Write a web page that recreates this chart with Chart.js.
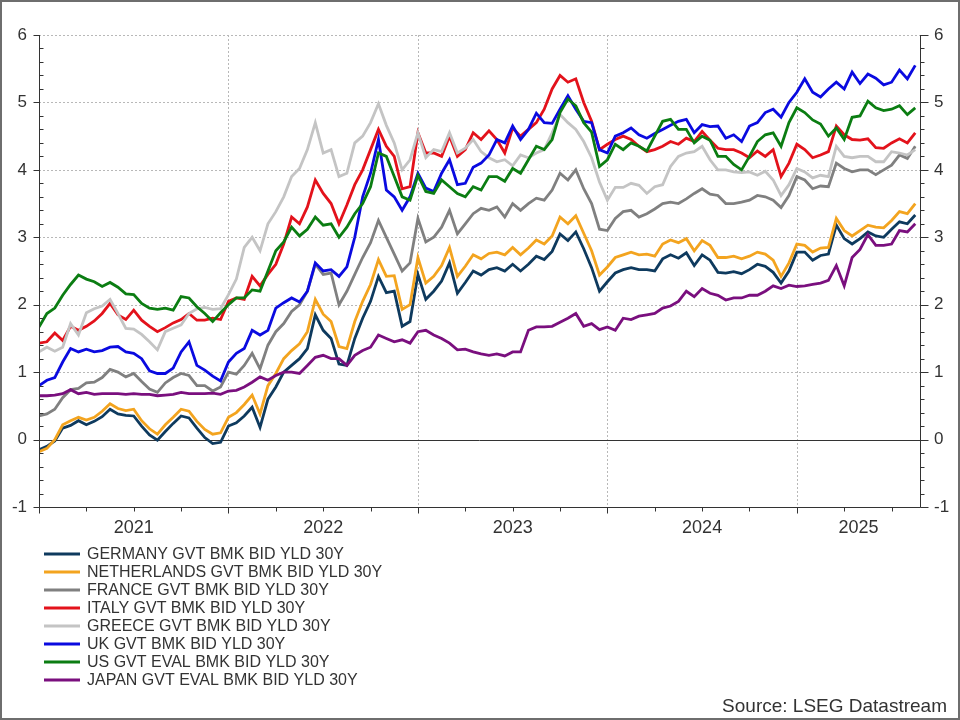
<!DOCTYPE html>
<html>
<head>
<meta charset="utf-8">
<script src="https://cdn.jsdelivr.net/npm/chart.js@4.4.1/dist/chart.umd.min.js"></script>
<style>
  html, body { margin: 0; padding: 0; background: #fff; }
  canvas { display: block; }
</style>
</head>
<body>
<canvas id="yieldChart" width="960" height="720"></canvas>
<script>
// 30Y government bond yields, sampled every half month from Jan 2021
const N_POINTS   = 112;
const monthIdx   = Array.from({ length: N_POINTS }, (_, i) => i * 0.5);
const yearStarts = [0, 12, 24, 36, 48];
const yearLabels = ['2021', '2022', '2023', '2024', '2025'];
const yTicks     = [-1, 0, 1, 2, 3, 4, 5, 6];

const germany = [
  -0.15, -0.10, -0.02, 0.17, 0.21, 0.28, 0.22, 0.27, 0.34, 0.45,
  0.38, 0.36, 0.35, 0.20, 0.07, -0.01, 0.12, 0.24, 0.35, 0.32,
  0.17, 0.03, -0.06, -0.04, 0.20, 0.25, 0.35, 0.48, 0.18, 0.60,
  0.78, 1.00, 1.10, 1.20, 1.35, 1.85, 1.62, 1.50, 1.12, 1.10,
  1.50, 1.80, 2.05, 2.42, 2.18, 2.20, 1.68, 1.75, 2.45, 2.08,
  2.20, 2.35, 2.62, 2.17, 2.33, 2.50, 2.44, 2.52, 2.55, 2.50,
  2.60, 2.50, 2.60, 2.72, 2.67, 2.79, 3.05, 2.95, 3.08, 2.83,
  2.55, 2.20, 2.34, 2.47, 2.52, 2.55, 2.52, 2.52, 2.50, 2.68,
  2.74, 2.69, 2.77, 2.58, 2.74, 2.66, 2.48, 2.47, 2.49, 2.46,
  2.52, 2.60, 2.57, 2.48, 2.32, 2.50, 2.78, 2.78, 2.66, 2.73,
  2.75, 3.18, 2.98, 2.90, 2.98, 3.08, 3.02, 3.00, 3.12, 3.23,
  3.20, 3.33
];
const netherlands = [
  -0.18, -0.13, 0.00, 0.22, 0.28, 0.33, 0.29, 0.33, 0.42, 0.53,
  0.46, 0.43, 0.45, 0.28, 0.16, 0.08, 0.22, 0.33, 0.45, 0.42,
  0.27, 0.15, 0.08, 0.10, 0.33, 0.40, 0.52, 0.66, 0.38, 0.80,
  0.98, 1.20, 1.32, 1.42, 1.60, 2.08, 1.86, 1.75, 1.38, 1.35,
  1.75, 2.05, 2.30, 2.67, 2.42, 2.43, 1.93, 2.00, 2.70, 2.32,
  2.42, 2.58, 2.85, 2.42, 2.57, 2.74, 2.68, 2.76, 2.78, 2.74,
  2.85, 2.74, 2.84, 2.96, 2.90, 3.02, 3.30, 3.20, 3.32, 3.06,
  2.80, 2.44, 2.56, 2.70, 2.74, 2.78, 2.74, 2.75, 2.72, 2.90,
  2.96, 2.92, 2.98, 2.80, 2.95, 2.88, 2.70, 2.70, 2.72, 2.68,
  2.72, 2.78, 2.75, 2.66, 2.42, 2.62, 2.90, 2.88, 2.78, 2.84,
  2.85, 3.28, 3.10, 3.02, 3.10, 3.18, 3.15, 3.14, 3.25, 3.38,
  3.35, 3.50
];
const france = [
  0.35, 0.38, 0.45, 0.62, 0.74, 0.76, 0.84, 0.85, 0.92, 1.04,
  1.00, 0.93, 0.98, 0.86, 0.75, 0.70, 0.84, 0.92, 0.98, 0.95,
  0.80, 0.80, 0.72, 0.78, 1.00, 0.97, 1.10, 1.28, 1.05, 1.40,
  1.60, 1.72, 1.90, 2.00, 2.20, 2.60, 2.45, 2.47, 2.00, 2.20,
  2.45, 2.70, 2.92, 3.25, 3.00, 2.75, 2.50, 2.62, 3.28, 2.93,
  3.00, 3.15, 3.40, 3.05, 3.20, 3.35, 3.43, 3.40, 3.45, 3.30,
  3.50, 3.40, 3.50, 3.58, 3.55, 3.70, 3.95, 3.85, 4.00, 3.72,
  3.50, 3.12, 3.10, 3.28, 3.38, 3.40, 3.30, 3.35, 3.42, 3.50,
  3.52, 3.50, 3.57, 3.65, 3.72, 3.64, 3.62, 3.50, 3.50, 3.52,
  3.55, 3.62, 3.60, 3.55, 3.44, 3.62, 3.90, 3.85, 3.72, 3.76,
  3.75, 4.10, 4.02, 3.97, 4.00, 4.00, 3.93, 4.00, 4.07, 4.22,
  4.17, 4.35
];
const italy = [
  1.43, 1.45, 1.58, 1.47, 1.68, 1.62, 1.68, 1.76, 1.87, 2.02,
  1.85, 1.78, 1.92, 1.77, 1.68, 1.60, 1.66, 1.73, 1.78, 1.87,
  1.77, 1.77, 1.80, 1.78, 2.05, 2.10, 2.08, 2.42, 2.28, 2.45,
  2.60, 2.90, 3.30, 3.20, 3.45, 3.85, 3.65, 3.50, 3.20, 3.48,
  3.78, 4.00, 4.30, 4.60, 4.35, 4.20, 3.72, 3.75, 4.55, 4.25,
  4.25, 4.20, 4.50, 4.20, 4.30, 4.55, 4.45, 4.58, 4.45, 4.25,
  4.62, 4.50, 4.60, 4.70, 4.90, 5.20, 5.40, 5.30, 5.35, 5.00,
  4.72, 4.30, 4.38, 4.45, 4.50, 4.45, 4.35, 4.27, 4.30, 4.35,
  4.42, 4.38, 4.47, 4.42, 4.57, 4.44, 4.32, 4.30, 4.30, 4.25,
  4.18, 4.28, 4.20, 4.30, 3.90, 4.10, 4.38, 4.30, 4.18, 4.22,
  4.27, 4.65, 4.52, 4.45, 4.44, 4.46, 4.33, 4.32, 4.40, 4.46,
  4.40, 4.55
];
const greece = [
  1.30, 1.37, 1.31, 1.37, 1.72, 1.55, 1.88, 1.94, 1.98, 2.08,
  1.87, 1.65, 1.64, 1.56, 1.45, 1.33, 1.60, 1.65, 1.70, 1.87,
  1.94, 1.96, 1.93, 1.94, 2.15, 2.38, 2.85, 3.00, 2.80, 3.20,
  3.38, 3.60, 3.90, 4.02, 4.30, 4.70, 4.25, 4.30, 3.90, 3.95,
  4.40, 4.50, 4.70, 4.98, 4.66, 4.40, 4.00, 4.15, 4.55, 4.18,
  4.30, 4.27, 4.55, 4.25, 4.32, 4.45, 4.27, 4.18, 4.12, 4.15,
  4.06, 4.22, 4.18, 4.25, 4.30, 4.55, 4.82, 4.70, 4.60, 4.42,
  4.18, 3.82, 3.55, 3.74, 3.74, 3.80, 3.77, 3.65, 3.75, 3.78,
  4.05, 4.20, 4.25, 4.27, 4.35, 4.15, 4.00, 4.00, 3.97, 3.96,
  3.97, 3.92, 3.98, 3.85, 3.62, 3.78, 4.02, 3.97, 3.88, 3.92,
  3.90, 4.35, 4.20, 4.18, 4.20, 4.20, 4.12, 4.12, 4.27, 4.25,
  4.22, 4.30
];
const uk = [
  0.80, 0.88, 0.92, 1.15, 1.35, 1.30, 1.34, 1.30, 1.32, 1.37,
  1.38, 1.30, 1.28, 1.20, 1.02, 0.98, 0.98, 1.06, 1.30, 1.45,
  1.10, 1.03, 0.94, 0.87, 1.15, 1.28, 1.35, 1.62, 1.55, 1.62,
  1.95, 2.03, 2.10, 2.04, 2.20, 2.62, 2.50, 2.52, 2.42, 2.56,
  3.00, 3.60, 3.95, 4.45, 3.70, 3.60, 3.40, 3.60, 3.95, 3.73,
  3.68, 3.95, 4.15, 3.78, 3.80, 4.04, 4.10, 4.22, 4.45, 4.40,
  4.65, 4.45, 4.60, 4.84, 4.70, 4.69, 4.90, 5.10, 4.90, 4.72,
  4.70, 4.30, 4.25, 4.50, 4.55, 4.62, 4.52, 4.47, 4.54, 4.60,
  4.66, 4.72, 4.75, 4.55, 4.67, 4.64, 4.65, 4.47, 4.52, 4.42,
  4.65, 4.70, 4.85, 4.90, 4.78, 5.00, 5.15, 5.35, 5.15, 5.08,
  5.20, 5.30, 5.20, 5.45, 5.28, 5.42, 5.36, 5.26, 5.30, 5.48,
  5.35, 5.55
];
const us = [
  1.67, 1.87, 1.95, 2.14, 2.30, 2.44, 2.38, 2.34, 2.27, 2.33,
  2.26, 2.16, 2.15, 2.02, 1.95, 1.93, 1.95, 1.92, 2.12, 2.10,
  1.97, 1.87, 1.75, 1.88, 2.00, 2.10, 2.10, 2.22, 2.20, 2.50,
  2.80, 2.93, 3.15, 3.02, 3.12, 3.30, 3.18, 3.20, 3.00, 3.15,
  3.35, 3.50, 3.75, 4.25, 4.20, 3.90, 3.60, 3.55, 3.92, 3.68,
  3.65, 3.85, 3.75, 3.65, 3.60, 3.75, 3.70, 3.90, 3.90, 3.83,
  4.02, 3.95, 4.15, 4.35, 4.30, 4.45, 4.85, 5.05, 4.95, 4.70,
  4.56, 4.05, 4.15, 4.38, 4.30, 4.40, 4.35, 4.28, 4.50, 4.72,
  4.75, 4.60, 4.60, 4.40, 4.50, 4.44, 4.20, 4.20, 4.08, 4.00,
  4.20, 4.42, 4.52, 4.55, 4.35, 4.70, 4.92, 4.85, 4.74, 4.68,
  4.50, 4.62, 4.45, 4.78, 4.80, 5.02, 4.92, 4.88, 4.90, 4.95,
  4.82, 4.92
];
const japan = [
  0.65, 0.65, 0.66, 0.68, 0.74, 0.68, 0.70, 0.67, 0.68, 0.68,
  0.68, 0.67, 0.68, 0.67, 0.67, 0.65, 0.66, 0.67, 0.70, 0.68,
  0.68, 0.68, 0.69, 0.67, 0.72, 0.73, 0.78, 0.85, 0.93, 0.88,
  0.95, 1.00, 1.00, 0.98, 1.10, 1.22, 1.25, 1.20, 1.20, 1.10,
  1.25, 1.32, 1.37, 1.55, 1.50, 1.45, 1.48, 1.43, 1.60, 1.62,
  1.55, 1.50, 1.43, 1.33, 1.34, 1.30, 1.27, 1.25, 1.27, 1.24,
  1.30, 1.30, 1.62, 1.67, 1.67, 1.68, 1.74, 1.80, 1.87, 1.68,
  1.72, 1.63, 1.67, 1.62, 1.80, 1.78, 1.83, 1.85, 1.87, 1.95,
  1.98, 2.05, 2.20, 2.12, 2.24, 2.17, 2.14, 2.07, 2.10, 2.10,
  2.14, 2.14, 2.20, 2.28, 2.24, 2.29, 2.27, 2.28, 2.30, 2.32,
  2.36, 2.58, 2.28, 2.70, 2.82, 3.04, 2.88, 2.88, 2.90, 3.10,
  3.08, 3.20
];

const seriesNames = [
  'GERMANY GVT BMK BID YLD 30Y',
  'NETHERLANDS GVT BMK BID YLD 30Y',
  'FRANCE GVT BMK BID YLD 30Y',
  'ITALY GVT BMK BID YLD 30Y',
  'GREECE GVT BMK BID YLD 30Y',
  'UK GVT BMK BID YLD 30Y',
  'US GVT EVAL BMK BID YLD 30Y',
  'JAPAN GVT EVAL BMK BID YLD 30Y'
];
const seriesValues = [germany, netherlands, france, italy, greece, uk, us, japan];
const seriesColors = ['#0e3a5e', '#f3a41f', '#808080', '#e3121b', '#c4c4c4', '#0a0ae0', '#0b7d12', '#7a0f7e'];

const FONT = '"Liberation Sans", Arial, sans-serif';
const TEXT = '#333333';

function hline(ctx, x0, x1, y) { ctx.beginPath(); ctx.moveTo(x0, y); ctx.lineTo(x1, y); ctx.stroke(); }
function vline(ctx, x, y0, y1) { ctx.beginPath(); ctx.moveTo(x, y0); ctx.lineTo(x, y1); ctx.stroke(); }

const framePlugin = {
  id: 'frame',
  beforeDatasetsDraw(chart) {
    const { ctx, chartArea: a, scales: { x, y } } = chart;
    ctx.save();
    // dotted grid
    ctx.strokeStyle = '#b8b8b8';
    ctx.lineWidth = 1;
    ctx.setLineDash([2, 2]);
    yTicks.filter(v => v > -1 && v !== 0).forEach(v => {
      hline(ctx, a.left, a.right, Math.round(y.getPixelForValue(v)) + 0.5);
    });
    yearStarts.slice(1).forEach(m => {
      vline(ctx, Math.round(x.getPixelForValue(m)) + 0.5, a.top, a.bottom);
    });
    ctx.setLineDash([]);
    // zero line
    ctx.strokeStyle = '#333';
    hline(ctx, a.left, a.right, Math.round(y.getPixelForValue(0)) + 0.5);
    ctx.restore();
  },
  afterDraw(chart) {
    const { ctx, chartArea: a, scales: { x, y } } = chart;
    const L = Math.round(a.left) + 0.5, R = Math.round(a.right) + 0.5, B = Math.round(a.bottom) + 0.5;
    ctx.save();
    ctx.strokeStyle = '#333';
    ctx.lineWidth = 1;
    vline(ctx, L, a.top, B);
    vline(ctx, R, a.top, B);
    hline(ctx, L, R, B);

    // y ticks: majors every 1, minors every 0.2
    for (let i = -5; i <= 30; i++) {
      const v = i / 5;
      const py = Math.round(y.getPixelForValue(v)) + 0.5;
      const major = i % 5 === 0;
      if (major) {
        hline(ctx, L - 6, L, py);
        hline(ctx, R, R + 8, py);
      } else {
        hline(ctx, L, L + 4, py);
        hline(ctx, R, R + 4, py);
      }
    }
    // x ticks: years long, quarters short
    for (let m = 0; m <= 55; m += 3) {
      const px = Math.round(x.getPixelForValue(m)) + 0.5;
      vline(ctx, px, B, B + (m % 12 === 0 ? 6 : 4));
    }

    ctx.fillStyle = TEXT;
    ctx.font = '17px ' + FONT;
    ctx.textBaseline = 'middle';
    yTicks.forEach(v => {
      const py = y.getPixelForValue(v);
      ctx.textAlign = 'right';
      ctx.fillText(String(v), 27, py);
      ctx.textAlign = 'left';
      ctx.fillText(String(v), 934, py);
    });

    ctx.font = '18px ' + FONT;
    ctx.textAlign = 'center';
    yearStarts.forEach((m, i) => {
      const mid = Math.min(m + 6, (m + x.max) / 2);
      ctx.fillText(yearLabels[i], x.getPixelForValue(mid), 528);
    });

    // legend
    ctx.font = '16px ' + FONT;
    ctx.textAlign = 'left';
    seriesNames.forEach((name, i) => {
      const ly = 554 + i * 18;
      ctx.strokeStyle = seriesColors[i];
      ctx.lineWidth = 3;
      hline(ctx, 44, 80, ly);
      ctx.fillText(name, 87, ly + 1);
    });

    ctx.font = '19px ' + FONT;
    ctx.textAlign = 'right';
    ctx.fillText('Source: LSEG Datastream', 947, 707);

    // outer border
    ctx.strokeStyle = '#6e6e6e';
    ctx.lineWidth = 2;
    ctx.strokeRect(1, 1, 958, 718);
    ctx.restore();
  }
};

new Chart(document.getElementById('yieldChart'), {
  type: 'line',
  data: {
    datasets: seriesValues.map((vals, i) => ({
      label: seriesNames[i],
      data: vals.map((v, k) => ({ x: monthIdx[k], y: v })),
      borderColor: seriesColors[i],
      borderWidth: 2.8,
      pointRadius: 0,
      tension: 0,
      fill: false,
      order: seriesValues.length - i
    }))
  },
  options: {
    responsive: false,
    animation: false,
    parsing: false,
    layout: { padding: { left: 39, right: 40, top: 35, bottom: 213 } },
    plugins: { legend: { display: false }, tooltip: { enabled: false } },
    scales: {
      x: { type: 'linear', min: 0, max: 55.8, display: false },
      y: { min: -1, max: 6, display: false }
    }
  },
  plugins: [framePlugin]
});
</script>
</body>
</html>
